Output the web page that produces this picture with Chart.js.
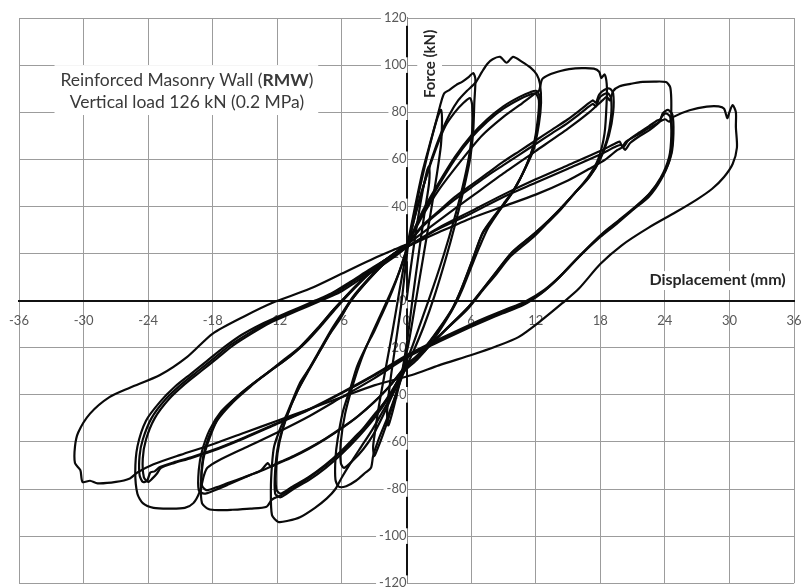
<!DOCTYPE html>
<html>
<head>
<meta charset="utf-8">
<script src="https://cdn.jsdelivr.net/npm/chart.js@4.4.1/dist/chart.umd.min.js"></script>
<style>
  html, body { margin: 0; padding: 0; background: #fff; overflow: hidden; }
  #wrap { width: 804px; height: 587px; overflow: hidden; }
</style>
</head>
<body>
<div id="wrap"><canvas id="chart" width="804" height="591"></canvas></div>
<script>
// axis ticks
const xTicks = [-36, -30, -24, -18, -12, -6, 0, 6, 12, 18, 24, 30, 36];
const yTicks = [-120, -100, -80, -60, -40, -20, 0, 20, 40, 60, 80, 100, 120];

// displacement (mm), force (kN) - one array per load cycle, in test order
const cycle1 = [[0,0],[0.4,14],[0.9,30],[1.4,44],[1.9,55],[2.1,57],[2.1,50],[1.7,38],[1.2,22],[0.6,2],[0.1,-16],[-0.4,-30],[-0.9,-40],[-1.4,-49],[-1.7,-53],[-1.8,-47],[-1.5,-34],[-1.0,-18],[-0.5,-2],[-0.1,14],[0.1,22]];
const cycle2 = [[0.1,22],[0.6,34],[1.2,47],[1.8,59],[2.4,70],[2.9,78],[3.2,81],[3.3,76],[3.2,66],[2.8,53],[2.2,36],[1.5,17],[0.8,-2],[0.2,-18],[-0.4,-30],[-1.0,-40],[-1.6,-49],[-2.2,-57],[-2.7,-63],[-3.0,-66],[-3.1,-62],[-2.9,-55],[-2.5,-43],[-1.9,-28],[-1.3,-13],[-0.7,3],[-0.2,16],[0.1,24]];
const cycle3 = [[0.1,24],[0.8,40],[1.5,55],[2.2,67],[2.8,77],[3.2,84],[3.5,88],[4.0,89.5],[4.6,91.5],[5.2,93],[5.8,95],[6.2,96.6],[6.4,94],[6.3,84],[6.2,72],[5.9,60],[5.3,47],[4.5,32],[3.6,17],[2.6,2],[1.6,-11],[0.6,-22],[-0.3,-31],[-1.0,-40],[-1.8,-50],[-2.6,-59],[-3.1,-66],[-3.3,-71],[-3.8,-73],[-4.7,-76.5],[-5.6,-78.8],[-6.3,-79],[-6.6,-76],[-6.6,-67],[-6.4,-59],[-5.9,-47],[-5.2,-37],[-4.6,-28],[-3.8,-20],[-3.1,-14],[-2.4,-7],[-1.7,0],[-1.0,8],[-0.4,16],[0.1,23]];
const cycle4 = [[0.1,23],[0.9,38],[1.8,52],[2.7,64],[3.6,74],[4.5,80],[5.3,84],[5.9,86],[6.1,83],[6.1,72],[5.8,61],[5.2,48],[4.4,34],[3.5,20],[2.5,6],[1.5,-7],[0.5,-20],[-0.4,-30],[-1.3,-40],[-2.2,-49],[-3.1,-57],[-4.0,-63],[-5.0,-68],[-5.8,-71],[-6.1,-69],[-6.1,-60],[-5.7,-48],[-5.0,-36],[-4.2,-25],[-3.3,-15],[-2.4,-6],[-1.5,3],[-0.6,13],[0.1,23]];
const cycle5 = [[0.1,23],[0.8,36],[1.6,49],[2.4,61],[3.2,71],[4.0,79],[4.8,85],[5.6,89],[6.4,92.5],[7.0,97],[7.5,100.5],[8.0,102.5],[8.7,103.5],[9.3,101],[9.9,103.5],[10.7,101.5],[11.5,99],[12.1,96],[12.4,92],[12.5,84],[12.3,75],[11.8,64],[10.8,54],[9.7,45],[8.6,38],[7.6,31],[6.8,23],[6.0,14],[5.3,6],[4.6,-1],[3.6,-9],[2.3,-18],[1.0,-25],[-0.2,-30],[-1.2,-39],[-2.2,-47],[-3.2,-55],[-4.2,-62],[-5.2,-69],[-6.0,-75],[-6.6,-80],[-7.4,-84],[-8.5,-88],[-9.9,-92],[-11.0,-93.5],[-11.9,-94],[-12.5,-91],[-12.6,-80],[-12.5,-70],[-12.3,-62],[-11.7,-54],[-11.1,-48],[-9.9,-35],[-8.9,-28],[-8.0,-21],[-7.1,-14],[-6.2,-8],[-5.3,-1],[-4.1,6],[-2.7,13],[-1.3,19],[0.1,24]];
const cycle6 = [[0.1,24],[1.5,38],[3.0,50],[4.5,61],[6.0,70],[7.5,77],[9.0,82.5],[10.5,86.5],[11.5,88.5],[12.1,89],[12.4,86],[12.3,78],[11.9,67],[11.1,57],[10.1,48],[9.0,41],[8.0,35],[7.1,29],[6.2,18],[5.2,6],[4.3,-3],[3.0,-12],[1.5,-21],[0,-28],[-1.5,-40],[-3.0,-50],[-4.5,-58],[-6.0,-65],[-7.5,-71],[-9.0,-76],[-10.5,-80],[-11.7,-83.5],[-12.2,-82],[-12.2,-72],[-11.9,-61],[-11.2,-50],[-10.2,-39],[-9.0,-29],[-8.0,-21],[-7.0,-13],[-6.0,-6],[-5.0,1],[-3.5,9],[-1.8,17],[0.1,24]];
const cycle7 = [[0.1,24],[1.5,37],[3.0,49],[4.5,60],[6.0,69],[7.5,76],[9.0,81.5],[10.5,85.5],[11.5,87.5],[12.0,88],[12.3,85],[12.2,77],[11.8,66],[11.0,56],[10.0,47],[8.9,40],[7.9,34],[7.0,28],[6.1,17],[5.1,5],[4.2,-4],[2.9,-13],[1.4,-22],[-0.1,-29],[-1.6,-40],[-3.1,-50],[-4.6,-57],[-6.1,-64],[-7.6,-70],[-9.1,-75],[-10.6,-79],[-11.7,-82],[-12.1,-80],[-12.1,-70],[-11.8,-60],[-11.1,-49],[-10.1,-38],[-9.0,-28.5],[-8.0,-20.5],[-7.0,-12.5],[-6.0,-5.5],[-5.0,1.5],[-3.5,9.5],[-1.8,17.5],[0.1,24]];
const cycle8 = [[0.1,24],[1.5,36],[3.0,47],[5.0,59],[7.0,70],[9.0,78],[10.5,83],[11.8,87.5],[12.3,89],[12.6,94],[13.3,96],[14.3,97.5],[15.1,98.3],[16.3,98.7],[17.4,98.5],[17.9,97.2],[18.1,94.5],[18.4,96],[18.6,92],[18.6,85],[18.4,71],[17.8,60],[16.8,52],[15.5,45],[14.2,38],[13.0,32.5],[11.8,27],[10.6,22.5],[9.6,18.5],[8.3,11],[7.1,4.5],[5.6,-4],[3.5,-13],[1.5,-22],[-0.1,-28],[-1.5,-40],[-3.1,-49],[-4.5,-57],[-6.0,-64],[-7.5,-70],[-9.0,-75],[-10.5,-79.5],[-11.6,-82.5],[-12.5,-84.5],[-13.0,-87.5],[-14.5,-88.3],[-16.2,-88.8],[-17.5,-89],[-18.4,-88.5],[-19.0,-86],[-19.1,-78],[-18.9,-68],[-18.5,-61],[-17.6,-51],[-16.1,-43],[-14.5,-36.5],[-13.0,-31],[-11.5,-25.5],[-9.9,-19.7],[-8.3,-12],[-6.8,-4],[-5.6,2],[-4.2,8.5],[-2.8,14.5],[-1.3,19.5],[0.1,24]];
const cycle9 = [[0.1,24],[1.5,32],[3.0,38],[4.5,44],[6.0,49],[7.5,54],[9.0,59],[10.5,63.5],[12.0,68],[13.5,72.5],[15.0,77],[16.3,81.5],[17.3,85],[17.6,84],[17.9,87.5],[18.4,89.5],[18.9,90],[19.2,88],[19.2,80],[18.8,70],[18.0,60],[17.0,52.5],[15.7,46],[14.4,39.5],[13.2,34],[12.0,29],[10.8,24.5],[9.8,20.5],[8.5,13],[7.3,6],[5.8,-2.5],[3.7,-12],[1.7,-21],[0.1,-27],[-1.5,-36],[-3.0,-43],[-4.5,-49],[-6.0,-54],[-7.5,-58.5],[-9.0,-62.5],[-10.5,-66],[-12.0,-69],[-12.6,-70.5],[-12.9,-69],[-13.5,-72],[-15.0,-75],[-16.5,-78],[-17.8,-80.5],[-18.8,-82],[-19.3,-80.5],[-19.3,-72],[-19.0,-64],[-18.3,-55],[-17.2,-47],[-15.7,-40.5],[-14.2,-35],[-12.7,-30],[-11.2,-25],[-9.7,-19],[-8.2,-11.5],[-6.8,-4],[-5.6,2],[-4.2,8.5],[-2.8,14.5],[-1.3,19.5],[0.1,24]];
const cycle10 = [[0.1,24],[1.5,31.5],[3.0,37.5],[4.5,43],[6.0,48],[7.5,53],[9.0,57.5],[10.5,62],[12.0,66.5],[13.5,71],[15.0,75.5],[16.3,80],[17.3,83.5],[17.6,82.5],[17.9,86],[18.3,87.5],[18.7,88],[19.0,86],[19.0,78],[18.6,68],[17.8,58.5],[16.8,51.5],[15.5,45],[14.2,38.5],[13.0,33],[11.8,28],[10.6,23.5],[9.6,19.5],[8.3,12],[7.1,5],[5.6,-3.5],[3.5,-13],[1.5,-22],[-0.1,-28],[-1.6,-36.5],[-3.1,-43.5],[-4.6,-49.5],[-6.1,-54.5],[-7.6,-59],[-9.1,-63],[-10.6,-66.5],[-12.1,-69.5],[-13.6,-72.5],[-15.1,-75],[-16.6,-77.5],[-17.8,-79.5],[-18.6,-80.5],[-19.0,-78.5],[-19.0,-70],[-18.7,-62.5],[-18.0,-54],[-16.9,-46],[-15.4,-39.5],[-13.9,-34],[-12.4,-29],[-10.9,-24],[-9.4,-18],[-7.9,-10.5],[-6.5,-3],[-5.3,3],[-3.9,9.5],[-2.5,15.5],[-1.1,20],[0.1,24]];
const cycle11 = [[0.1,24],[3.0,34],[6.0,44],[9.0,54],[12.0,63.5],[15.0,73],[17.0,80],[18.2,85],[18.6,86.5],[18.9,85],[19.2,89],[19.8,91],[20.8,92],[21.7,92.8],[23.0,93],[24.1,92.8],[24.5,90.6],[24.6,85],[24.6,78],[24.7,67],[24.4,59],[23.6,51],[22.5,44],[21.0,38.4],[19.5,32.5],[18.0,27],[16.0,18.5],[14.0,9],[12.5,3],[10.8,-2],[8.9,-5.5],[7.3,-8.5],[5.8,-11.5],[3.0,-17.5],[0.1,-24],[-3.0,-33],[-6.0,-41],[-9.0,-49],[-12.0,-56],[-15.0,-62.5],[-17.5,-68],[-18.5,-71],[-18.8,-74],[-19.2,-81],[-19.8,-86],[-20.6,-88],[-22.0,-88.3],[-23.5,-88],[-24.5,-86],[-25.0,-82],[-25.2,-73],[-25.0,-62],[-24.2,-51],[-22.9,-43],[-21.5,-36.5],[-20.0,-31],[-18.5,-25.5],[-17.0,-20],[-15.3,-14.5],[-13.5,-10],[-11.8,-6.5],[-10.0,-3],[-8.5,0],[-7.0,3],[-5.2,8],[-3.5,13],[-1.7,18],[0.1,23]];
const cycle12 = [[0.1,23],[3.0,31],[6.0,38],[9.0,45],[12.0,51.5],[15.0,57.5],[18.0,63.5],[19.3,66.5],[19.8,67.5],[20.1,65],[20.6,68],[21.5,71],[22.5,74],[23.3,76.5],[23.6,77],[23.8,79.5],[24.3,81],[24.7,79],[24.8,71],[24.6,62],[23.8,53],[22.7,46],[21.3,40],[19.7,34],[18.2,28.5],[16.3,20],[14.3,10.5],[12.8,4.5],[11.0,-0.5],[9.1,-4],[7.5,-7],[6.0,-10],[3.2,-16],[0.3,-22.5],[-3.0,-31.5],[-6.0,-39],[-9.0,-46],[-12.0,-52],[-15.0,-58],[-18.0,-63.5],[-20.0,-66.5],[-21.5,-68.5],[-22.9,-70.7],[-23.4,-72.5],[-23.8,-73],[-24.1,-76.5],[-24.5,-77],[-24.8,-74],[-24.8,-66],[-24.5,-59],[-23.7,-50],[-22.4,-42],[-20.9,-35.5],[-19.4,-30],[-17.9,-24.5],[-16.4,-19],[-14.7,-14],[-13.0,-9.5],[-11.3,-6],[-9.5,-2.5],[-8.0,0.5],[-6.5,3.5],[-4.8,8.5],[-3.2,13],[-1.5,18],[0.1,23]];
const cycle13 = [[0.1,23],[3.0,30.5],[6.0,37],[9.0,44],[12.0,50],[15.0,56],[18.0,62],[19.5,65.5],[20.0,66],[20.3,64],[20.8,67],[21.7,70],[22.6,72.5],[23.3,75],[23.5,76],[23.7,78],[24.1,79.5],[24.5,78],[24.6,70],[24.4,61],[23.6,52],[22.5,45],[21.1,39],[19.5,33],[18.0,27.5],[16.1,19],[14.1,9.5],[12.6,3.5],[10.8,-1.5],[8.9,-5],[7.3,-8],[5.8,-11],[3.0,-17],[0.1,-23.5],[-3.1,-32],[-6.1,-39.5],[-9.1,-46.5],[-12.1,-52.5],[-15.1,-58.5],[-18.1,-64],[-20.1,-67],[-21.6,-69],[-22.8,-71],[-23.2,-73.5],[-23.6,-75.5],[-24.0,-77],[-24.4,-75],[-24.5,-67],[-24.2,-59],[-23.4,-50],[-22.1,-42],[-20.6,-35.5],[-19.1,-30],[-17.6,-24.5],[-16.1,-19],[-14.4,-14],[-12.7,-9.5],[-11.0,-6],[-9.2,-2.5],[-7.7,0.5],[-6.2,3.5],[-4.5,8.5],[-2.9,13],[-1.3,18],[0.1,23]];
const cycle14 = [[0.1,23],[3.0,29],[6.0,35],[9.0,40],[12.0,45],[15.0,51],[17.0,56],[18.5,60],[19.6,64],[20.0,65],[20.4,67.5],[21.7,71],[23.0,74.5],[24.0,77],[24.4,76],[24.8,78],[26.3,80.8],[27.9,82.4],[29.0,82.5],[29.5,81.5],[29.8,77.5],[30.0,80],[30.3,83],[30.6,80],[30.6,73.7],[30.7,65],[30.3,58],[29.5,52.5],[28.4,47.5],[27.0,43],[25.0,37.5],[22.5,31],[20.0,23.5],[18.0,15.5],[16.0,5],[14.5,-1],[12.5,-8.5],[10.4,-15.5],[8.3,-19.5],[6.1,-23],[3.0,-27.5],[0.5,-31.6],[-3.0,-36],[-6.0,-41],[-9.0,-46],[-12.0,-51],[-15.0,-56],[-18.0,-61],[-21.0,-65.5],[-23.5,-69.5],[-25.0,-73],[-25.7,-75.5],[-27.0,-77],[-28.7,-77.6],[-29.4,-76.5],[-30.1,-77],[-30.3,-72],[-30.8,-69],[-30.8,-62],[-30.5,-56],[-29.4,-48],[-27.6,-41],[-25.7,-37],[-22.9,-31.6],[-20.4,-24],[-18.0,-14],[-15.0,-6.5],[-12.5,-1],[-9.0,5],[-6.0,11.5],[-3.0,18],[0.1,24]];

const cycles = [cycle1, cycle2, cycle3, cycle4, cycle5, cycle6, cycle7,
                cycle8, cycle9, cycle10, cycle11, cycle12, cycle13, cycle14];

const tickFont = { family: 'Lato, "DejaVu Sans", sans-serif', size: 13 };
const tickColor = '#595959';
const gridColor = '#9c9c9c';

// caption and axis names, drawn over the grid but under the curves
const notesPlugin = {
  id: 'notes',
  beforeDatasetsDraw(chart) {
    const ctx = chart.ctx;
    const sx = chart.scales.x, sy = chart.scales.y;
    const px = v => sx.getPixelForValue(v);
    const py = v => sy.getPixelForValue(v);
    ctx.save();
    ctx.fillStyle = '#fff';
    ctx.fillRect(px(-32.7), py(100), px(-8.2) - px(-32.7), py(78.8) - py(100));
    ctx.fillRect(px(1), py(115), px(3.3) - px(1), py(86) - py(115));
    ctx.fillRect(px(22.3), py(12.5), px(35.5) - px(22.3), py(4.5) - py(12.5));

    ctx.fillStyle = '#3a3a3a';
    ctx.textBaseline = 'middle';
    const cx = px(-20.4);
    const reg = '17.5px Lato, sans-serif';
    const bold = 'bold 17.5px Lato, sans-serif';
    const parts = [['Reinforced Masonry Wall (', reg], ['RMW', bold], [')', reg]];
    let total = 0;
    parts.forEach(p => { ctx.font = p[1]; total += ctx.measureText(p[0]).width; });
    let x = cx - total / 2;
    ctx.textAlign = 'left';
    parts.forEach(p => {
      ctx.font = p[1];
      ctx.fillText(p[0], x, py(93.5));
      x += ctx.measureText(p[0]).width;
    });
    ctx.font = reg;
    ctx.textAlign = 'center';
    ctx.fillText('Vertical load 126 kN (0.2 MPa)', cx, py(84));

    ctx.fillStyle = '#262626';
    ctx.font = 'bold 16px Lato, sans-serif';
    ctx.fillText('Displacement (mm)', px(28.9), py(8.7));
    ctx.font = 'bold 15px Lato, sans-serif';
    ctx.translate(px(2.2), py(100.5));
    ctx.rotate(-Math.PI / 2);
    ctx.fillText('Force (kN)', 0, 0);
    ctx.restore();
  }
};

new Chart(document.getElementById('chart'), {
  type: 'scatter',
  data: {
    datasets: cycles.map((c, i) => ({
      label: 'cycle ' + (i + 1),
      data: c.map(p => ({ x: p[0], y: p[1] })),
      showLine: true,
      borderColor: '#0a0a0a',
      borderWidth: 2.2,
      pointRadius: 0,
      tension: 0.25,
      borderJoinStyle: 'round'
    }))
  },
  options: {
    responsive: false,
    animation: false,
    layout: { padding: { left: 19, right: 10, top: 18, bottom: 4 } },
    plugins: { legend: { display: false }, tooltip: { enabled: false } },
    scales: {
      x: {
        type: 'linear',
        min: -36, max: 36,
        position: { y: 0 },
        afterBuildTicks: s => { s.ticks = xTicks.map(v => ({ value: v })); },
        ticks: { font: tickFont, color: tickColor, padding: 0, maxRotation: 0, autoSkip: false },
        grid: { color: gridColor, lineWidth: 1, drawTicks: true, tickLength: 12, tickColor: 'rgba(0,0,0,0)' },
        border: { color: '#111', width: 2 }
      },
      y: {
        type: 'linear',
        min: -120, max: 120,
        position: { x: 0 },
        afterBuildTicks: s => { s.ticks = yTicks.map(v => ({ value: v })); },
        ticks: {
          font: tickFont, color: tickColor, padding: 0, autoSkip: false,
          showLabelBackdrop: true, backdropColor: '#fff',
          backdropPadding: { left: 3, right: 1, top: 0, bottom: 0 }
        },
        grid: { color: gridColor, lineWidth: 1, drawTicks: true, tickLength: 12, tickColor: 'rgba(0,0,0,0)' },
        border: { color: '#111', width: 2 }
      }
    }
  },
  plugins: [notesPlugin]
});
</script>
</body>
</html>
